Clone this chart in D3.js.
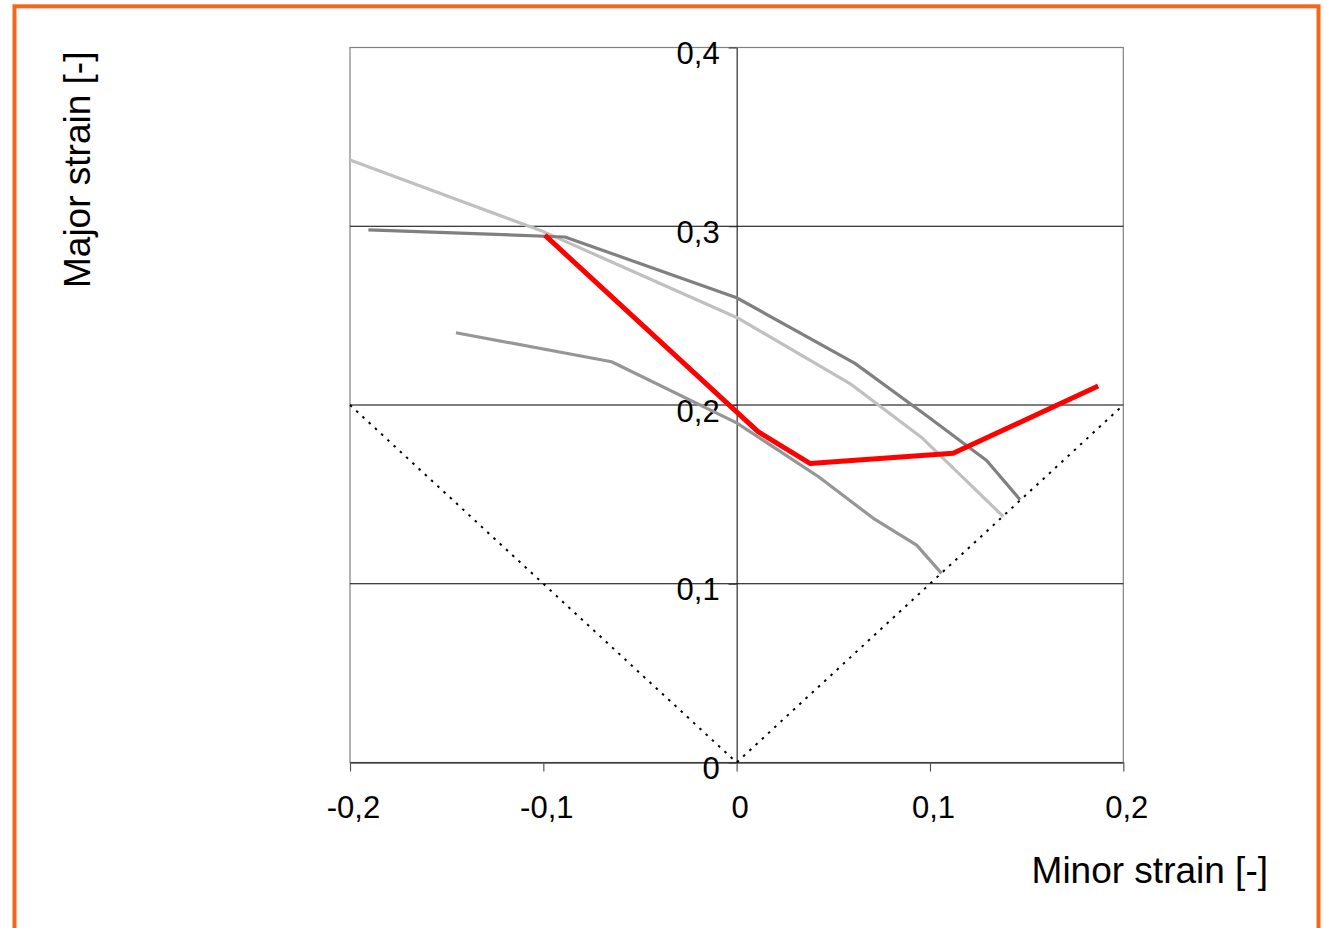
<!DOCTYPE html>
<html lang="en">
  <head>
    <meta charset="UTF-8" />
    <title>Forming limit curves</title>
    <script src="https://d3js.org/d3.v7.min.js"></script>
    <style>
      body {
        margin: 0;
        background: #fff;
        font-family: "Liberation Sans", Arial, sans-serif;
      }
      svg text {
        fill: #000;
      }
    </style>
  </head>
  <body>
    <svg width="1324" height="928"></svg>
    <script>
      // chart values
      const xTicks = [-0.2, -0.1, 0, 0.1, 0.2];
      const yTicks = [0, 0.1, 0.2, 0.3, 0.4];

      const lightMinor = [-0.2, -0.1, 0, 0.0586, 0.0955, 0.138];
      const lightMajor = [0.337, 0.297, 0.249, 0.212, 0.182, 0.1375];

      const darkMinor = [-0.1905, -0.0888, 0, 0.0612, 0.0983, 0.1293, 0.1466];
      const darkMajor = [0.298, 0.294, 0.260, 0.2233, 0.194, 0.169, 0.147];

      const lowMinor = [-0.1452, -0.0647, 0, 0.0422, 0.0707, 0.0931, 0.106];
      const lowMajor = [0.2404, 0.2242, 0.19, 0.16, 0.1366, 0.1216, 0.1058];

      const redMinor = [-0.0992, 0.0112, 0.0379, 0.112, 0.187];
      const redMajor = [0.295, 0.185, 0.1673, 0.173, 0.2106];

      const limitMinor = [-0.2, 0, 0.2];
      const limitMajor = [0.2, 0, 0.2];

      const zip = (a, b) => a.map((v, i) => [v, b[i]]);

      const svg = d3.select("svg");

      // orange frame
      svg
        .append("rect")
        .attr("x", 14.5)
        .attr("y", 6.3)
        .attr("width", 1304)
        .attr("height", 940)
        .attr("fill", "none")
        .attr("stroke", "#f4661c")
        .attr("stroke-width", 4);

      const x = d3.scaleLinear().domain([-0.2, 0.2]).range([350, 1123.3]);
      const y = d3.scaleLinear().domain([0, 0.4]).range([762.5, 47.5]);

      // plot border
      svg
        .append("rect")
        .attr("x", x(-0.2))
        .attr("y", y(0.4))
        .attr("width", x(0.2) - x(-0.2))
        .attr("height", y(0) - y(0.4))
        .attr("fill", "none")
        .attr("stroke", "#808080")
        .attr("stroke-width", 1.2);

      // horizontal gridlines
      svg
        .append("g")
        .selectAll("line")
        .data([0.1, 0.2, 0.3])
        .join("line")
        .attr("x1", x(-0.2))
        .attr("x2", x(0.2))
        .attr("y1", (d) => y(d))
        .attr("y2", (d) => y(d))
        .attr("stroke", "#000")
        .attr("stroke-width", 1);

      const fmt = (d) => String(+d.toFixed(1)).replace(".", ",");

      // x axis at major = 0
      const xAxis = svg
        .append("g")
        .attr("transform", `translate(0,${y(0)})`)
        .call(d3.axisBottom(x).tickValues(xTicks).tickSize(9).tickSizeOuter(0).tickFormat(fmt));
      xAxis.select(".domain").attr("stroke", "#000").attr("stroke-width", 1.2);
      xAxis.selectAll(".tick line").attr("stroke", "#555").attr("stroke-width", 1.2);
      xAxis
        .selectAll(".tick text")
        .attr("y", 0)
        .attr("dy", 0)
        .attr("transform", "translate(3,55)")
        .style("font-size", "31px")
        .style("font-family", '"Liberation Sans", Arial, sans-serif');

      // y axis at minor = 0
      const yAxis = svg
        .append("g")
        .attr("transform", `translate(${x(0)},0)`)
        .call(d3.axisLeft(y).tickValues(yTicks).tickSize(8).tickSizeOuter(0).tickFormat(fmt));
      yAxis.select(".domain").attr("stroke", "#000").attr("stroke-width", 1);
      yAxis.selectAll(".tick line").attr("stroke", "#333").attr("stroke-width", 1);
      yAxis
        .selectAll(".tick text")
        .attr("x", -17)
        .attr("dy", 0)
        .attr("y", 16)
        .style("font-size", "31px")
        .style("font-family", '"Liberation Sans", Arial, sans-serif');

      const line = d3
        .line()
        .x((d) => x(d[0]))
        .y((d) => y(d[1]));

      // dotted limit lines
      svg
        .append("path")
        .datum(zip(limitMinor, limitMajor))
        .attr("d", line)
        .attr("fill", "none")
        .attr("stroke", "#000")
        .attr("stroke-width", 2)
        .attr("stroke-dasharray", "2.5,6");

      const series = [
        { minor: lightMinor, major: lightMajor, color: "#c0c0c0", w: 3.2 },
        { minor: lowMinor, major: lowMajor, color: "#969696", w: 3.2 },
        { minor: darkMinor, major: darkMajor, color: "#808080", w: 3.2 },
        { minor: redMinor, major: redMajor, color: "#ff0000", w: 5 },
      ];

      svg
        .append("g")
        .selectAll("path")
        .data(series)
        .join("path")
        .attr("d", (s) => line(zip(s.minor, s.major)))
        .attr("fill", "none")
        .attr("stroke", (s) => s.color)
        .attr("stroke-width", (s) => s.w)
        .attr("stroke-linejoin", "round");

      // axis titles
      svg
        .append("text")
        .attr("x", 1268)
        .attr("y", 883)
        .attr("text-anchor", "end")
        .style("font-size", "37px")
        .text("Minor strain [-]");

      svg
        .append("text")
        .attr("transform", "translate(89.5,288) rotate(-90)")
        .attr("text-anchor", "start")
        .style("font-size", "37px")
        .text("Major strain [-]");
    </script>
  </body>
</html>
